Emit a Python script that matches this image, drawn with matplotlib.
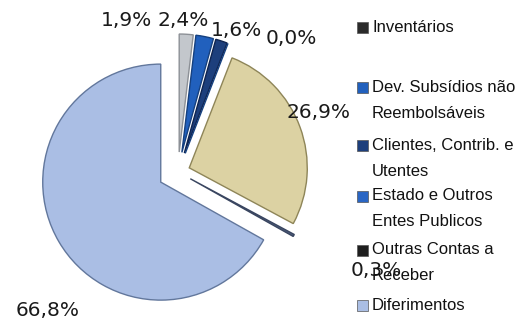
import matplotlib
matplotlib.use("Agg")
import matplotlib.pyplot as plt
from matplotlib.patches import Rectangle

# slices, clockwise from 12 o'clock
values = [1.9, 2.4, 1.6, 0.0, 26.9, 0.3, 66.8]
colors = ['#c3c7cc', '#2160bd', '#1d3f7c', '#2a66c4', '#dcd2a3', '#4c5c7c', '#aabee4']
edges = ['#8c9096', '#15407f', '#0f2450', '#15407f', '#8e8558', '#3a4660', '#62779c']
explode = [20, 20, 20, 20, 12, 14, 20]  # pixels

legend_labels = ['Inventários', 'Dev. Subsídios não\nReembolsáveis', 'Clientes, Contrib. e\nUtentes',
                 'Estado e Outros\nEntes Publicos', 'Outras Contas a\nReceber', 'Diferimentos']
legend_colors = ['#2b2b2b', '#2160bd', '#1d3f7c', '#2a66c4', '#1e1e1e', '#aabee4']

# where the percentage labels sit (pixels, y down)
label_pos = [(126, 21), (183, 21), (236, 30), (291, 38), (319, 113), (376, 270), (48, 310)]

W, H = 528, 323
fig = plt.figure(figsize=(W / 100, H / 100), dpi=100)
ax = fig.add_axes([0, 0, 1, 1])

wedges, _ = ax.pie(values, colors=colors, explode=explode, startangle=90, counterclock=False,
                   center=(178, -172), radius=118, frame=True,
                   wedgeprops=dict(linewidth=1.0))
for w, ec in zip(wedges, edges):
    w.set_edgecolor(ec)
ax.set_xlim(0, W)
ax.set_ylim(-H, 0)
ax.axis('off')

for v, (x, y) in zip(values, label_pos):
    ax.text(x, -y, f"{v:.1f}%".replace('.', ','), ha='center', va='center',
            fontsize=14.5, color='#1a1a1a', family='DejaVu Sans')

# legend, one entry per row
ys = [27, 87, 145, 196, 250, 305]
for lab, c, y in zip(legend_labels, legend_colors, ys):
    ax.add_patch(Rectangle((357, -y - 5.5), 11, 11, facecolor=c, edgecolor='#555555', lw=0.5))
    for k, line in enumerate(lab.split('\n')):
        ax.text(372, -(y + 26 * k), line, ha='left', va='center', fontsize=12,
                family='Liberation Sans', color='#111111')

fig.savefig('out.png', dpi=100)
